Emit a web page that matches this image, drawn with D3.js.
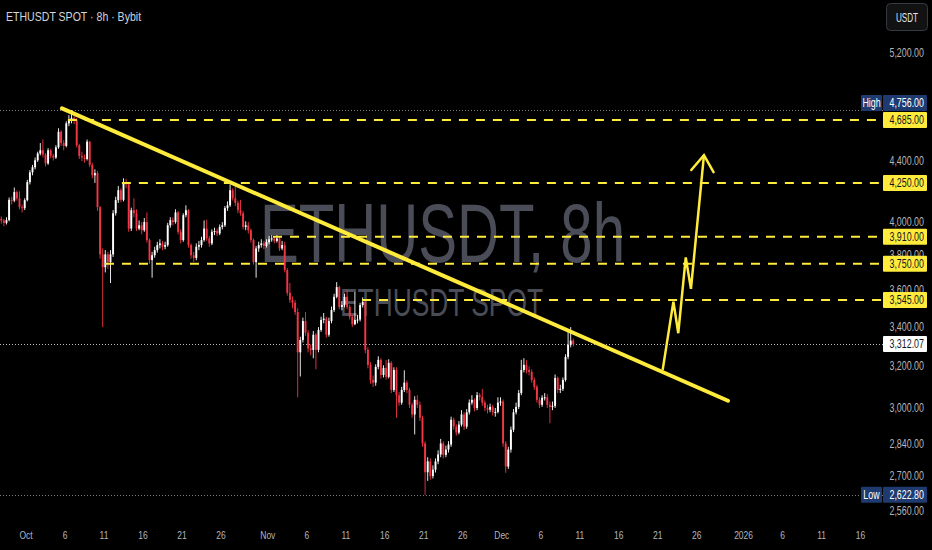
<!DOCTYPE html>
<html>
<head>
<meta charset="utf-8">
<script src="https://d3js.org/d3.v7.min.js"></script>
<style>
  html, body { margin: 0; background: #000; }
  svg { display: block; font-family: "Liberation Sans", Arial, sans-serif; }
</style>
</head>
<body>
<svg width="932" height="550"></svg>
<script>
// 8h candles, first one opens Sep 27 16:00 UTC; open = previous close
var firstCandle = Date.parse("2025-09-27T16:00:00Z");
var firstOpen = 4020;

var closes = [4010,3995,4012,4140,4135,4190,4150,4093,4087,4138,
  4255,4320,4354,4401,4448,4470,4440,4380,4470,4433,
  4420,4490,4600,4520,4500,4660,4682,4700,4682,4505,
  4430,4420,4410,4530,4370,4300,4315,4093,3805,3730,
  3805,3760,3805,4055,4138,4202,4140,4250,4240,3960,
  4074,4055,3960,3980,3950,4000,3890,3772,3800,3830,
  3860,3870,3850,3860,3980,4012,4000,4060,3940,3890,
  4043,4074,3860,3800,3784,3850,3860,3890,3960,3900,
  3870,3940,3945,3930,3970,3980,4087,4105,4202,4150,
  4120,4074,4055,3970,3980,3950,3890,3760,3840,3860,
  3870,3855,3878,3895,3900,3885,3900,3840,3860,3714,
  3585,3546,3530,3480,3270,3333,3432,3370,3290,3282,
  3360,3282,3385,3438,3445,3360,3432,3491,3563,3617,
  3508,3518,3563,3508,3455,3415,3438,3440,3518,3535,
  3282,3207,3133,3120,3197,3232,3157,3192,3148,3217,
  3085,3182,3060,3025,3085,3120,3085,3015,2970,3038,
  3015,2955,2840,2716,2762,2700,2727,2762,2792,2840,
  2790,2813,2835,2946,2915,2888,2924,2970,2915,2980,
  3025,3038,3000,3060,3052,3025,3000,2992,3005,2980,
  2982,3025,3030,2840,2740,2813,2901,2980,3005,3070,
  3182,3207,3182,3172,3133,3100,3038,3015,3048,3050,
  3015,3005,3010,3143,3085,3090,3133,3247,3308,3330,
  3312.07];

var highs = [4035,4020,4030,4155,4160,4220,4200,4195,4110,4150,
  4270,4335,4370,4420,4460,4520,4545,4450,4485,4480,
  4445,4505,4625,4610,4540,4675,4720,4756,4740,4700,
  4515,4460,4440,4545,4535,4385,4340,4330,4100,3840,
  3830,3820,3830,4075,4160,4230,4215,4280,4275,4250,
  4090,4150,4080,4010,4000,4025,4060,3900,3820,3850,
  3880,3895,3885,3880,3995,4030,4030,4080,4070,3955,
  4055,4105,4080,3870,3820,3870,3885,3910,4010,4015,
  3915,3955,3965,3960,3985,4000,4100,4130,4240,4215,
  4225,4135,4140,4070,4005,4000,3960,3900,3855,3880,
  3895,3885,3895,3915,3920,3910,3920,3910,3885,3880,
  3725,3640,3565,3545,3500,3350,3450,3480,3385,3310,
  3380,3370,3400,3455,3475,3455,3450,3510,3580,3645,
  3625,3540,3580,3600,3520,3465,3590,3465,3530,3560,
  3545,3295,3220,3155,3210,3250,3240,3205,3232,3235,
  3225,3195,3195,3075,3100,3180,3130,3095,3025,3055,
  3060,3030,2965,2850,2780,2775,2745,2775,2810,2860,
  2850,2830,2850,2960,2955,2925,2940,2990,2980,2995,
  3040,3060,3045,3075,3070,3090,3035,3015,3020,3015,
  3000,3050,3050,3040,2850,2825,2915,2995,3025,3085,
  3232,3240,3230,3200,3185,3145,3110,3050,3060,3070,
  3065,3030,3030,3160,3150,3110,3145,3260,3385,3400,
  3340];

var lows = [3990,3975,3985,4005,4110,4125,4135,4080,4060,4075,
  4130,4240,4300,4340,4390,4435,4420,4360,4370,4415,
  4400,4410,4480,4500,4470,4490,4640,4660,4655,4490,
  4410,4395,4385,4400,4355,4280,4250,4070,3780,3400,
  3700,3720,3640,3790,4040,4120,4125,4130,4215,3940,
  3945,4030,3945,3950,3925,3940,3875,3750,3670,3785,
  3815,3840,3830,3835,3850,3965,3980,3990,3925,3870,
  3880,4030,3845,3780,3760,3770,3830,3845,3880,3885,
  3850,3860,3920,3915,3920,3955,3970,4070,4095,4135,
  4100,4055,4040,3955,3950,3930,3875,3745,3670,3820,
  3845,3835,3845,3865,3880,3870,3875,3825,3830,3700,
  3570,3530,3500,3465,3050,3150,3320,3355,3270,3255,
  3240,3185,3270,3375,3420,3345,3350,3420,3480,3555,
  3495,3490,3505,3495,3440,3400,3410,3420,3430,3505,
  3265,3190,3115,3100,3105,3185,3140,3145,3135,3140,
  3070,3075,2955,3010,3015,3075,3070,3000,2955,2880,
  3000,2940,2825,2623,2680,2685,2690,2715,2750,2780,
  2775,2780,2800,2825,2900,2875,2880,2915,2900,2905,
  2970,3015,2985,2990,3035,3010,2985,2975,2980,2965,
  2960,2975,3010,2825,2714,2730,2800,2890,2970,2995,
  3060,3170,3165,3155,3120,3085,3025,3000,3005,3035,
  3000,2930,2990,3000,3070,3070,3080,3125,3235,3295,
  3300];

var priceTicks = [5200, 4400, 4000, 3800, 3600, 3400, 3200, 3000, 2840, 2700, 2560];
var dateTicks = ["2025-10-01","2025-10-06","2025-10-11","2025-10-16","2025-10-21","2025-10-26",
  "2025-11-01","2025-11-06","2025-11-11","2025-11-16","2025-11-21","2025-11-26",
  "2025-12-01","2025-12-06","2025-12-11","2025-12-16","2025-12-21","2025-12-26",
  "2026-01-01","2026-01-06","2026-01-11","2026-01-16"];

// horizontal levels drawn on the chart: price and the date they start from
var levelPrices = [4685, 4250, 3910, 3750, 3545];
var levelStarts = ["2025-10-06T09:00Z","2025-10-13T07:00Z","2025-11-01T16:00Z","2025-10-11T03:00Z","2025-11-13T02:00Z"];

var trendDates = ["2025-10-05T14:45Z", "2025-12-30T00:00Z"];
var trendPrices = [4769, 3034];

var arrowDates = ["2025-12-21T15:00Z","2025-12-23T00:00Z","2025-12-23T15:00Z","2025-12-24T14:00Z","2025-12-25T06:00Z","2025-12-26T22:00Z"];
var arrowPrices = [3182, 3537, 3368, 3787, 3607, 4436];

var highPrice = 4756, lowPrice = 2622.8, lastPrice = 3312.07;

var svg = d3.select("svg"),
    plotRight = 884,
    yellow = "#ffeb3b",
    axisColor = "#b2b5be",
    sx = 0.74;

var x = d3.scaleUtc()
    .domain([new Date("2025-10-01T00:00Z"), new Date("2026-01-16T00:00Z")])
    .range([26, 860.6]);
var y = d3.scaleLog()
    .domain([2560, 5200])
    .range([510.5, 52.5]);

var fmt = d3.format(",.2f");

// squashed text, the screenshot is narrower than the fonts we have
function txt(parent, px, py, str, size, fill, anchor, scale) {
    var g = parent.append("g")
        .attr("transform", "translate(" + px + "," + py + ") scale(" + (scale || sx) + ",1)");
    return g.append("text")
        .attr("text-anchor", anchor || "start")
        .attr("dy", "0.35em")
        .attr("font-size", size)
        .attr("fill", fill)
        .text(str);
}

// watermark
svg.append("text")
    .attr("x", 260).attr("y", 262)
    .attr("font-size", 84)
    .attr("textLength", 365).attr("lengthAdjust", "spacingAndGlyphs")
    .attr("fill", "#4a4d57")
    .text("ETHUSDT, 8h");
svg.append("text")
    .attr("x", 340).attr("y", 316)
    .attr("font-size", 38)
    .attr("textLength", 203).attr("lengthAdjust", "spacingAndGlyphs")
    .attr("fill", "#4a4d57")
    .text("ETHUSDT SPOT");

// dotted high / low / last price lines
[[highPrice, "#7b7e88"], [lowPrice, "#7b7e88"], [lastPrice, "#b8bac2"]].forEach(function(d) {
    svg.append("line")
        .attr("x1", 0).attr("x2", plotRight)
        .attr("y1", Math.round(y(d[0])) + 0.5).attr("y2", Math.round(y(d[0])) + 0.5)
        .attr("stroke", d[1]).attr("stroke-width", 1)
        .attr("stroke-dasharray", "1,2");
});

// candles
var candles = closes.map(function(c, i) {
    return {
        t: new Date(firstCandle + i * 8 * 3600e3 + 4 * 3600e3),
        o: i === 0 ? firstOpen : closes[i - 1],
        h: highs[i], l: lows[i], c: c
    };
});

var cg = svg.append("g");
cg.selectAll("line.wick")
    .data(candles).enter().append("line")
    .attr("x1", function(d) { return x(d.t); })
    .attr("x2", function(d) { return x(d.t); })
    .attr("y1", function(d) { return y(d.h); })
    .attr("y2", function(d) { return y(d.l); })
    .attr("stroke", function(d) { return d.c >= d.o ? "#ffffff" : "#f23645"; })
    .attr("stroke-width", 0.9);
cg.selectAll("rect")
    .data(candles).enter().append("rect")
    .attr("x", function(d) { return x(d.t) - 0.95; })
    .attr("width", 1.9)
    .attr("y", function(d) { return y(Math.max(d.o, d.c)); })
    .attr("height", function(d) { return Math.max(1, Math.abs(y(d.o) - y(d.c))); })
    .attr("fill", function(d) { return d.c >= d.o ? "#ffffff" : "#f23645"; });

// dashed levels
levelPrices.forEach(function(p, i) {
    svg.append("line")
        .attr("x1", x(new Date(levelStarts[i]))).attr("x2", plotRight)
        .attr("y1", y(p)).attr("y2", y(p))
        .attr("stroke", yellow).attr("stroke-width", 2)
        .attr("stroke-dasharray", "9,8");
});

// trend line
svg.append("line")
    .attr("x1", x(new Date(trendDates[0]))).attr("y1", y(trendPrices[0]))
    .attr("x2", x(new Date(trendDates[1]))).attr("y2", y(trendPrices[1]))
    .attr("stroke", yellow).attr("stroke-width", 4)
    .attr("stroke-linecap", "round");

// projected path with arrow head
var pts = arrowDates.map(function(d, i) { return [x(new Date(d)), y(arrowPrices[i])]; });
svg.append("path")
    .attr("d", d3.line()(pts))
    .attr("fill", "none").attr("stroke", yellow)
    .attr("stroke-width", 2.5).attr("stroke-linejoin", "miter");
var tip = pts[pts.length - 1], prev = pts[pts.length - 2],
    ang = Math.atan2(prev[1] - tip[1], prev[0] - tip[0]),
    wing = 19.5, spread = 35 * Math.PI / 180;
svg.append("path")
    .attr("d", d3.line()([
        [tip[0] + wing * Math.cos(ang - spread), tip[1] + wing * Math.sin(ang - spread)],
        tip,
        [tip[0] + wing * Math.cos(ang + spread), tip[1] + wing * Math.sin(ang + spread)]]))
    .attr("fill", "none").attr("stroke", yellow)
    .attr("stroke-width", 2.5).attr("stroke-linecap", "round");

// price axis labels
var axis = svg.append("g");
priceTicks.forEach(function(p) {
    txt(axis, 924, y(p), fmt(p), 12, axisColor, "end");
});

// date axis labels
dateTicks.forEach(function(s) {
    var d = new Date(s + "T00:00Z"), label;
    if (d.getUTCMonth() === 0 && d.getUTCDate() === 1) label = d3.utcFormat("%Y")(d);
    else if (d.getUTCDate() === 1) label = d3.utcFormat("%b")(d);
    else label = d3.utcFormat("%-d")(d);
    txt(axis, x(d), 535, label, 11.5, axisColor, "middle");
});

// price tags on the axis
var tags = levelPrices.map(function(p) { return { p: p, bg: yellow, fg: "#131722" }; });
tags.push({ p: lastPrice, bg: "#ffffff", fg: "#131722" });
tags.push({ p: highPrice, bg: "#1e3a6e", fg: "#ffffff", name: "High" });
tags.push({ p: lowPrice, bg: "#1e3a6e", fg: "#ffffff", name: "Low" });
tags.forEach(function(t) { t.y = y(t.p); });
tags.sort(function(a, b) { return b.y - a.y; });
for (var i = 1; i < tags.length; i++) {
    if (tags[i - 1].y - tags[i].y < 17) tags[i].y = tags[i - 1].y - 17;
}
var tagG = svg.append("g");
tags.forEach(function(t) {
    tagG.append("rect")
        .attr("x", 883).attr("y", t.y - 8).attr("width", 44).attr("height", 16)
        .attr("rx", 1).attr("fill", t.bg);
    txt(tagG, 924, t.y, fmt(t.p), 12, t.fg, "end");
    if (t.name) {
        tagG.append("rect")
            .attr("x", 861).attr("y", t.y - 8).attr("width", 21).attr("height", 16)
            .attr("rx", 1).attr("fill", t.bg);
        txt(tagG, 871.5, t.y, t.name, 12, t.fg, "middle");
    }
});

// title
txt(svg, 6, 17, "ETHUSDT SPOT \u00b7 8h \u00b7 Bybit", 12, "#d1d4dc", "start", 0.88);

// currency button
svg.append("rect")
    .attr("x", 886.5).attr("y", 3.5).attr("width", 41).attr("height", 27).attr("rx", 4)
    .attr("fill", "#121212").attr("stroke", "#363a45");
txt(svg, 907, 17.5, "USDT", 12, "#e0e3eb", "middle", 0.68);
</script>
</body>
</html>
